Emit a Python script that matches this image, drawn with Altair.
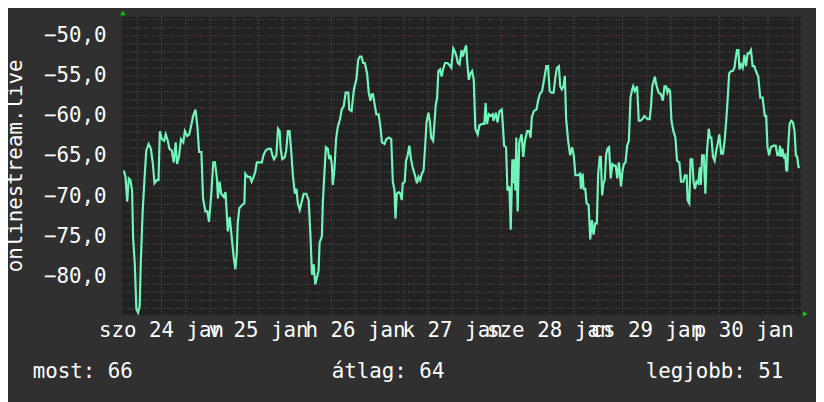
import altair as alt
import pandas as pd

# hours since 23 Jan 00:00
hours = [
 2.69, 3.10, 3.51, 3.91, 4.32, 4.73, 4.98, 5.38, 5.79, 6.20, 6.61, 6.85, 7.34, 7.83, 8.24, 8.81,
 9.38, 9.87, 10.28, 10.85, 11.26, 11.59, 12.08, 12.65, 13.06, 13.55, 13.95, 14.53, 15.02, 15.51,
 15.83, 16.32, 16.81, 17.38, 17.79, 18.36, 18.85, 19.42, 19.83, 20.40, 20.89, 21.30, 21.87, 22.28,
 22.85, 23.34, 23.75, 24.32, 24.81, 25.22, 25.71, 25.95, 26.36, 26.77, 27.42, 27.83, 28.40, 28.89,
 29.22,
 29.87, 30.28, 30.61, 30.85, 31.26, 31.92, 32.49, 32.73, 33.30, 33.87, 34.28, 34.77, 35.18, 35.59,
 36.16, 36.81, 37.22, 37.79, 38.36, 39.02, 39.43, 39.83, 40.41, 40.81, 41.22, 41.47, 41.87, 42.45,
 42.85, 43.26, 43.67, 44.16, 44.49, 44.98, 45.38, 45.71, 46.20, 46.77, 47.18, 47.83, 48.40, 48.81,
 49.22, 49.63, 50.04, 50.53, 50.85, 51.10, 51.67, 51.91, 52.16, 52.65, 53.14, 53.47, 53.79, 54.12,
 54.36, 54.77, 55.18, 55.59, 56.16, 56.57, 57.06, 57.55, 58.20,
 58.44, 59.01, 59.59, 60.24, 60.65, 61.06, 61.46, 61.87, 62.28, 62.85, 63.26, 63.67, 63.99, 64.32,
 64.73, 65.14, 65.71, 66.20, 66.52, 67.18, 67.59, 68.24, 68.81, 69.22, 69.63, 69.87, 70.20, 70.69,
 71.10, 71.42, 71.67, 72.16, 72.48, 72.89, 73.30, 73.71, 74.12, 74.69, 75.18, 75.59, 76.00, 76.40,
 76.81, 77.22, 77.55, 78.03, 78.44, 78.69, 79.18, 79.50, 79.83, 80.16, 80.48, 80.89, 81.30, 81.63,
 82.12, 82.69, 83.10, 83.67, 84.16, 84.57, 84.97, 85.30, 85.71, 86.20, 86.52,
 86.94, 87.35, 87.59, 88.00, 88.41, 88.82, 89.23, 89.63, 90.20, 90.61, 91.27, 91.84, 92.16, 92.49,
 92.98, 93.47, 93.88, 94.12, 94.69, 95.10, 95.59, 96.16, 96.41, 96.73, 97.22, 97.55, 98.04, 98.37,
 98.78, 99.02, 99.27, 99.51, 99.76, 100.08, 100.49, 101.06, 101.47, 101.88, 102.45, 102.94, 103.27,
 103.59, 104.08, 104.73, 105.14, 105.55, 106.12, 106.78, 107.18, 107.59, 108.00, 108.41, 108.98,
 109.39, 109.80, 110.29, 110.61, 111.02, 111.43, 111.76, 112.08, 112.57, 113.06, 113.55, 113.96,
 114.37, 114.78,
 114.94, 115.51, 115.75, 116.16, 116.41, 116.81, 117.14, 117.63, 118.04, 118.45, 118.85, 119.26,
 119.67, 120.00, 120.41, 120.65, 120.98, 121.30, 121.63, 121.96, 122.28, 122.69, 123.10, 123.51,
 123.92, 124.32, 124.73, 125.14, 125.63, 126.04, 126.36, 126.77, 127.18, 127.59, 128.00, 128.41,
 128.65, 129.06, 129.63, 130.04, 130.45, 130.94, 131.43, 131.83, 132.24, 132.73, 133.06, 133.38,
 133.71, 134.04, 134.36, 134.94, 135.51, 136.00, 136.41, 136.81, 137.14, 137.47, 137.79, 138.12,
 138.61, 139.10, 139.51, 140.08, 140.49, 141.06, 141.47, 141.87, 142.12, 142.53, 142.85,
 143.26, 143.59, 143.91, 144.32, 144.73, 145.14, 145.38, 145.71, 146.12, 146.52, 146.85, 147.34,
 147.67, 147.99, 148.40, 148.81, 149.22, 149.63, 149.95, 150.44, 150.85, 151.26, 151.67, 152.08,
 152.40, 152.89, 153.30, 153.71, 153.95, 154.36, 154.69, 154.93, 155.34, 155.75, 156.16, 156.57,
 156.97, 157.38, 157.79, 158.20, 158.61, 159.01, 159.59, 160.08, 160.65, 161.22, 161.55, 161.87,
 162.28, 162.69, 163.34, 163.91, 164.32, 164.73, 164.97, 165.30, 165.54, 165.95, 166.28, 166.52,
 166.77, 167.01, 167.34, 167.75, 168.16, 168.57, 168.89, 169.22, 169.55, 169.87,
]

values = [
 -66.8, -67.6, -70.7, -67.8, -68.0, -69.3, -75.2, -78.3, -84.1, -84.5, -83.7, -78.7, -71.9, -67.6, -64.3, -63.5,
 -64.1, -66.0, -68.4, -68.0, -68.0, -61.9, -62.9, -63.1, -62.3, -63.1, -64.1, -64.3, -65.8, -63.3,
 -66.0, -65.1, -62.9, -63.3, -61.9, -62.5, -62.3, -61.0, -60.0, -59.2, -61.4, -64.5, -64.5, -70.3,
 -71.9, -71.9, -73.2, -69.7, -65.8, -65.8, -67.8, -70.3, -68.2, -69.7, -70.1, -69.5, -74.4, -72.6,
 -74.4,
 -77.7, -79.1, -77.1, -73.4, -71.5, -71.1, -70.9, -67.2, -67.6, -67.6, -68.2, -67.6, -67.0, -65.8,
 -65.8, -65.8, -64.9, -64.3, -64.1, -64.1, -64.9, -65.4, -64.9, -61.6, -61.9, -64.1, -65.4, -65.2,
 -64.3, -61.9, -61.9, -64.9, -67.4, -69.7, -69.1, -70.9, -71.7, -70.5, -69.7, -69.7, -70.5, -74.6,
 -79.8, -78.5, -81.0, -80.0, -79.3, -75.8, -75.0, -70.7, -68.4, -63.9, -64.1, -65.4, -64.9, -66.0,
 -68.6, -66.6, -62.9, -61.4, -60.4, -59.2, -58.8, -57.1, -57.1,
 -59.2, -59.4, -56.7, -55.3, -53.0, -52.6, -52.6, -53.4, -53.4, -54.7, -57.1, -58.1, -57.3, -57.3,
 -58.6, -59.8, -59.8, -61.6, -63.3, -63.5, -62.9, -62.7, -62.9, -68.2, -69.3, -72.8, -69.7, -69.5,
 -69.7, -70.5, -68.4, -68.2, -65.6, -64.9, -63.7, -65.4, -66.4, -67.4, -68.4, -67.6, -68.0, -67.2,
 -66.8, -63.7, -60.8, -59.6, -61.0, -62.7, -63.1, -61.0, -58.6, -57.8, -54.4, -54.2, -55.1, -54.2,
 -53.4, -53.4, -53.6, -54.0, -51.6, -52.0, -52.6, -53.4, -53.6, -51.8, -52.6,
 -51.8, -51.2, -53.2, -55.5, -54.7, -54.4, -55.5, -61.6, -62.3, -61.2, -61.0, -61.0, -58.4, -61.0,
 -59.8, -60.0, -59.8, -60.6, -59.6, -60.8, -59.4, -59.2, -61.0, -63.7, -63.9, -69.3, -68.8, -74.2,
 -65.4, -68.4, -65.4, -69.3, -62.7, -71.9, -63.3, -62.3, -65.1, -63.1, -61.9, -61.9, -62.7,
 -60.2, -59.4, -59.2, -58.1, -57.3, -56.9, -55.0, -53.8, -53.8, -56.9, -57.1, -57.1,
 -55.3, -54.0, -53.8, -56.3, -56.7, -56.3, -55.0, -60.4, -63.1, -64.9, -63.9, -64.9,
 -67.4, -67.4,
 -67.4, -67.2, -69.1, -67.2, -69.1, -69.1, -70.9, -71.1, -75.4, -73.0, -74.8, -73.4,
 -73.4, -67.2, -65.1, -65.1, -69.9, -68.4, -68.0, -64.9, -64.1, -63.9, -67.8, -66.0,
 -66.2, -66.2, -67.8, -65.8, -68.8, -66.8, -66.0, -65.8, -63.7, -63.1, -57.7, -56.7,
 -56.3, -56.9, -56.3, -60.6, -60.6, -60.4, -60.0, -60.2, -60.4, -60.4, -58.8, -56.3,
 -55.7, -55.1, -56.1, -57.1, -57.3, -58.1, -56.3, -56.3, -57.1, -56.7, -56.9, -60.6,
 -61.9, -62.7, -65.6, -65.8, -68.2, -68.2, -67.4, -67.4, -70.5, -70.9, -65.4,
 -65.4, -68.2, -69.1, -68.2, -68.4, -66.4, -68.6, -64.9, -64.9, -69.7, -64.9, -61.6,
 -62.7, -62.7, -65.1, -65.6, -64.3, -63.3, -62.3, -64.7, -64.7, -63.1, -60.6, -57.5,
 -54.7, -54.4, -54.4, -54.0, -53.0, -51.8, -51.8, -54.2, -53.6, -54.0, -52.4, -53.8,
 -52.2, -52.2, -51.8, -53.8, -53.8, -54.4, -55.1, -57.7, -57.7, -60.0, -60.0, -63.9,
 -64.9, -63.9, -63.7, -63.7, -64.9, -64.9, -63.7, -65.1, -64.1, -65.1, -64.9, -66.8,
 -66.8, -63.7, -61.0, -60.6, -60.8, -61.9, -64.9, -65.1, -66.4, -66.4,
]

day_label_hours = [12, 36, 60, 84, 108, 132, 156]
day_labels = ["szo 24 jan", "v 25 jan", "h 26 jan", "k 27 jan", "sze 28 jan", "cs 29 jan", "p 30 jan"]
y_ticks = [-80, -75, -70, -65, -60, -55, -50]
legend_names = ["most", "átlag", "legjobb"]
legend_values = [66, 64, 51]
series_name = "onlinestream.live"

X_DOMAIN = [2.2, 170.2]
Y_DOMAIN = [-84.81, -47.65]
FONT = "DejaVu Sans Mono"
W, H = 686, 301

n = min(len(hours), len(values))
df = pd.DataFrame({"h": hours[:n], "v": values[:n]})
one = pd.DataFrame({"k": [0]})

xs = alt.Scale(domain=X_DOMAIN, nice=False, zero=False)
ys = alt.Scale(domain=Y_DOMAIN, nice=False, zero=False)

y_axis = alt.Axis(
    values=y_ticks,
    labelExpr="replace(format(datum.value, '.1f'), '.', ',')",
    grid=False, ticks=False, domain=False,
    labelFont=FONT, labelFontSize=21, labelColor="#ffffff",
    labelPadding=16, title=None)

v_minor = pd.DataFrame({"h": [h for h in range(6, 171, 6) if h % 24 != 0]})
v_major = pd.DataFrame({"h": [h for h in range(24, 171, 24)]})
h_minor = pd.DataFrame({"v": [v for v in range(-84, -47) if v % 5 != 0]})
h_major = pd.DataFrame({"v": [v for v in range(-80, -47) if v % 5 == 0]})

dash = [1, 2]
grid_minor = "#5a5a5a"
grid_major = "#8a3a3a"

l_vmin = alt.Chart(v_minor).mark_rule(color=grid_minor, strokeDash=dash, strokeWidth=1).encode(
    x=alt.X("h:Q", scale=xs, axis=None))
l_vmaj = alt.Chart(v_major).mark_rule(color=grid_major, strokeDash=dash, strokeWidth=1).encode(
    x=alt.X("h:Q", scale=xs, axis=None))
l_hmin = alt.Chart(h_minor).mark_rule(color=grid_minor, strokeDash=dash, strokeWidth=1).encode(
    y=alt.Y("v:Q", scale=ys, axis=y_axis))
l_hmaj = alt.Chart(h_major).mark_rule(color=grid_major, strokeDash=dash, strokeWidth=1).encode(
    y=alt.Y("v:Q", scale=ys, axis=y_axis))

line = alt.Chart(df).mark_line(color="#72f5b8", strokeWidth=2.2).encode(
    x=alt.X("h:Q", scale=xs, axis=None),
    y=alt.Y("v:Q", scale=ys, axis=y_axis),
)

lab_df = pd.DataFrame({"h": day_label_hours, "t": day_labels})
xlabels = alt.Chart(lab_df).mark_text(
    font=FONT, fontSize=21, color="#ffffff", align="center", baseline="alphabetic"
).encode(x=alt.X("h:Q", scale=xs, axis=None), y=alt.value(323), text="t:N")

leg_x = [-90, 212, 529]
legend_layers = []
for name, val, lx in zip(legend_names, legend_values, leg_x):
    legend_layers.append(
        alt.Chart(one).mark_text(
            text=f"{name}: {val}", font=FONT, fontSize=21, color="#ffffff",
            align="left", baseline="alphabetic"
        ).encode(x=alt.value(lx), y=alt.value(365))
    )

title = alt.Chart(one).mark_text(
    text=series_name, font=FONT, fontSize=21, color="#ffffff", angle=270,
    align="center", baseline="middle"
).encode(x=alt.value(-107), y=alt.value(H / 2))

arrow_up = alt.Chart(one).mark_point(
    shape="triangle-up", filled=True, color="#00d000", size=28, opacity=1
).encode(x=alt.value(1), y=alt.value(-4))
arrow_right = alt.Chart(one).mark_point(
    shape="triangle-right", filled=True, color="#00d000", size=28, opacity=1
).encode(x=alt.value(690), y=alt.value(300))

chart = alt.layer(
    l_vmin, l_hmin, l_vmaj, l_hmaj, line, xlabels, title, arrow_up, arrow_right, *legend_layers
).properties(
    width=W, height=H,
    padding={"left": 115, "top": 7, "right": 15, "bottom": 86},
    autosize=alt.AutoSizeParams(type="none"),
).configure(background="#303030").configure_view(fill="#222222", stroke=None)

chart.save("out.html", embed_options={"renderer": "svg", "actions": False})
